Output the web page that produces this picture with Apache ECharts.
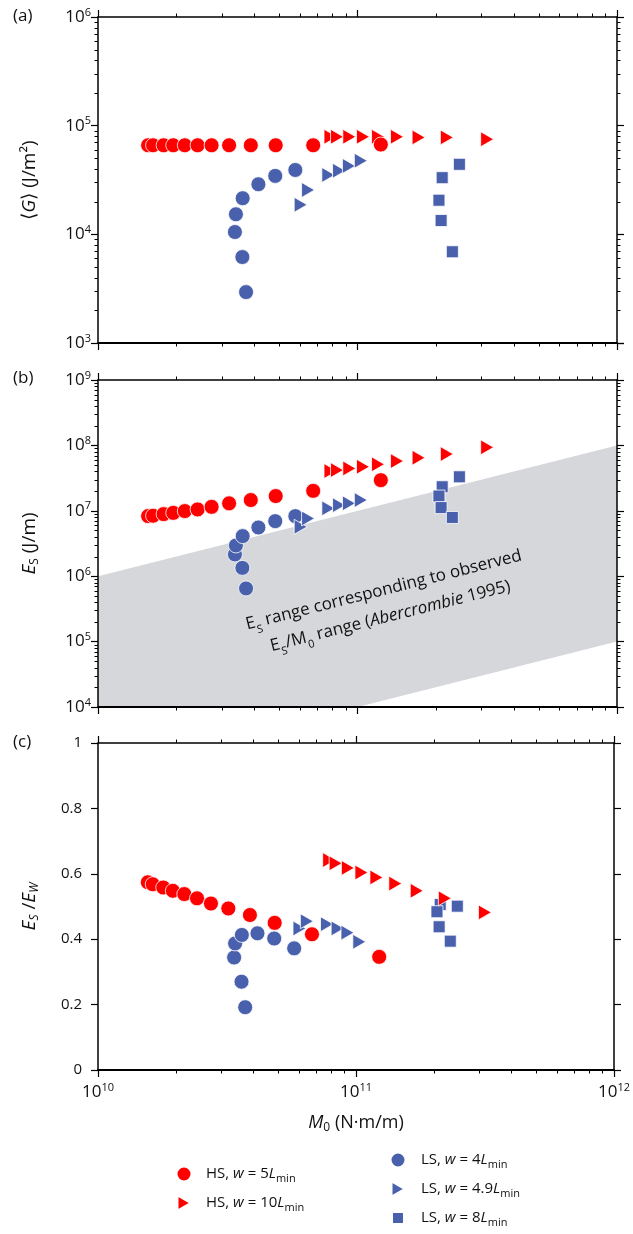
<!DOCTYPE html>
<html><head><meta charset="utf-8">
<script src="https://cdn.jsdelivr.net/npm/echarts@6/dist/echarts.min.js"></script>
<style>html,body{margin:0;padding:0;background:#fff}#c{width:633px;height:1234px}</style>
</head><body><div id="c"></div>
<script>
// ---------- data ----------
const xMin = 1e10, xMax = 1e12;
// HS, w = 5 Lmin (red circles)
const M_HS5  = [1.56e10, 1.63e10, 1.79e10, 1.95e10, 2.16e10, 2.42e10, 2.74e10, 3.20e10, 3.88e10, 4.84e10, 6.75e10, 1.23e11];
const G_HS5  = [6.6e4, 6.6e4, 6.6e4, 6.6e4, 6.6e4, 6.6e4, 6.6e4, 6.6e4, 6.6e4, 6.6e4, 6.6e4, 6.7e4];
const ES_HS5 = [8.3e6, 8.4e6, 8.9e6, 9.3e6, 9.9e6, 1.05e7, 1.15e7, 1.30e7, 1.46e7, 1.68e7, 2.02e7, 2.94e7];
const R_HS5  = [0.574, 0.568, 0.558, 0.548, 0.538, 0.525, 0.509, 0.494, 0.474, 0.450, 0.415, 0.346];
// HS, w = 10 Lmin (red triangles)
const M_HS10  = [7.87e10, 8.34e10, 9.30e10, 1.05e11, 1.20e11, 1.42e11, 1.72e11, 2.21e11, 3.16e11];
const G_HS10  = [7.9e4, 7.9e4, 7.9e4, 7.9e4, 7.9e4, 7.9e4, 7.8e4, 7.8e4, 7.5e4];
const ES_HS10 = [4.05e7, 4.19e7, 4.45e7, 4.71e7, 5.13e7, 5.75e7, 6.47e7, 7.37e7, 9.33e7];
const R_HS10  = [0.642, 0.632, 0.618, 0.604, 0.589, 0.570, 0.548, 0.525, 0.482];
// LS, w = 4 Lmin (blue circles)
const M_LS4  = [3.72e10, 3.60e10, 3.37e10, 3.40e10, 3.61e10, 4.15e10, 4.82e10, 5.76e10];
const G_LS4  = [2.94e3, 6.18e3, 1.05e4, 1.53e4, 2.15e4, 2.89e4, 3.45e4, 3.91e4];
const ES_LS4 = [6.5e5, 1.34e6, 2.15e6, 2.95e6, 4.1e6, 5.56e6, 6.95e6, 8.29e6];
const R_LS4  = [0.192, 0.270, 0.344, 0.387, 0.413, 0.418, 0.402, 0.372];
// LS, w = 4.9 Lmin (blue triangles)
const M_LS49  = [6.04e10, 6.45e10, 7.72e10, 8.49e10, 9.27e10, 1.03e11];
const G_LS49  = [1.87e4, 2.56e4, 3.52e4, 3.85e4, 4.26e4, 4.76e4];
const ES_LS49 = [5.69e6, 7.64e6, 1.09e7, 1.22e7, 1.30e7, 1.46e7];
const R_LS49  = [0.433, 0.455, 0.446, 0.433, 0.420, 0.392];
// LS, w = 8 Lmin (blue squares)
const M_LS8  = [2.47e11, 2.12e11, 2.06e11, 2.10e11, 2.32e11];
const G_LS8  = [4.41e4, 3.32e4, 2.06e4, 1.34e4, 6.91e3];
const ES_LS8 = [3.31e7, 2.33e7, 1.68e7, 1.12e7, 7.91e6];
const R_LS8  = [0.501, 0.506, 0.484, 0.438, 0.394];
// observed Es/M0 range (Abercrombie 1995)
const bandRatio = [1e-7, 1e-4];
const bandLabelAt = [1.30e11, 3.86e5];
// axis ranges / ticks
const yRangeA = [1e3, 1e6];
const yRangeB = [1e4, 1e9];
const yRangeC = [0, 1];
const xDecades = [1e10, 1e11];
const yDecadesA = [1e3, 1e4, 1e5];
const yDecadesB = [1e4, 1e5, 1e6, 1e7, 1e8];
const minorMult = [2, 3, 4, 5, 6, 7, 8, 9];
const seriesNames = ['HS5', 'HS10', 'LS4', 'LS49', 'LS8'];

// ---------- styles ----------
const FONT = 'Open Sans';
const RED = '#ff0000', BLUE = '#4961ad', TXT = '#111';
const TRI_RIGHT = 'path://M0,0L13,7.5L0,15Z';
const STY = {
  HS5:  {symbol: 'circle', symbolSize: 15, color: RED, icon: 'circle', iw: 15, ih: 15},
  HS10: {symbol: 'triangle', symbolSize: [15, 13], symbolRotate: -90, color: RED, icon: TRI_RIGHT, iw: 13, ih: 15},
  LS4:  {symbol: 'circle', symbolSize: 15, color: BLUE, icon: 'circle', iw: 15, ih: 15},
  LS49: {symbol: 'triangle', symbolSize: [15, 13], symbolRotate: -90, color: BLUE, icon: TRI_RIGHT, iw: 13, ih: 15},
  LS8:  {symbol: 'rect', symbolSize: 12, color: BLUE, icon: 'rect', iw: 12, ih: 12}
};
const LEGEND_TEXT = {
  HS5:  'HS, {i|w} = 5{i|L}{sub|min}',
  HS10: 'HS, {i|w} = 10{i|L}{sub|min}',
  LS4:  'LS, {i|w} = 4{i|L}{sub|min}',
  LS49: 'LS, {i|w} = 4.9{i|L}{sub|min}',
  LS8:  'LS, {i|w} = 8{i|L}{sub|min}'
};
// legend icon centre (x, y) and text start x
const legendPos = {HS5: [183, 1174, 205], HS10: [183, 1203, 205], LS4: [397, 1160, 420], LS49: [397, 1189, 420], LS8: [397, 1218, 420]};
const grids = [
  {left: 98, width: 519, top: 17, height: 326},
  {left: 98, width: 519, top: 380, height: 327},
  {left: 98, width: 519, top: 743, height: 327}
];

const expRich = {
  b: {fontSize: 17, fontFamily: FONT, color: TXT, lineHeight: 20},
  s: {fontSize: 11, fontFamily: FONT, color: TXT, lineHeight: 9, verticalAlign: 'top'}
};
const NF = 19;
const nameRich = {
  n: {fontSize: NF, fontFamily: FONT, color: TXT, lineHeight: 22},
  i: {fontSize: NF, fontFamily: FONT, color: TXT, fontStyle: 'italic', lineHeight: 22},
  sub: {fontSize: 12, fontFamily: FONT, color: TXT, lineHeight: 14, verticalAlign: 'bottom'},
  isub: {fontSize: 12, fontFamily: FONT, color: TXT, fontStyle: 'italic', lineHeight: 14, verticalAlign: 'bottom'}
};
function expFmt(v) { return '{b|10}{s|' + Math.round(Math.log10(v)) + '}'; }
const axLine = {show: true, onZero: false, lineStyle: {color: '#000', width: 1.5}};
const axTick = {show: true, length: 7, inside: false, lineStyle: {color: '#000', width: 1.2}};

const xAxes = [], yAxes = [];
grids.forEach((g, i) => {
  xAxes.push({
    gridIndex: i, type: 'log', position: 'bottom', min: xMin, max: xMax, logBase: 10, z: 3,
    axisLine: {show: true, onZero: false, lineStyle: {color: '#000', width: 2}}, axisTick: axTick, splitLine: {show: false},
    axisLabel: {show: i === 2, margin: 12, formatter: expFmt, rich: expRich, showMinLabel: true, showMaxLabel: true},
    name: i === 2 ? '{i|M}{sub|0}{n| (N·m/m)}' : '', nameLocation: 'middle', nameGap: 42,
    nameTextStyle: {fontSize: 18, fontFamily: FONT, color: TXT, rich: {
      n: {fontSize: 18, fontFamily: FONT, color: TXT, lineHeight: 22},
      i: {fontSize: 18, fontFamily: FONT, color: TXT, fontStyle: 'italic', lineHeight: 22},
      sub: {fontSize: 12, fontFamily: FONT, color: TXT, lineHeight: 14, verticalAlign: 'bottom'}
    }}
  });
  xAxes.push({
    gridIndex: i, type: 'log', position: 'top', min: xMin, max: xMax, logBase: 10, z: 3,
    axisLine: axLine, axisTick: axTick, splitLine: {show: false}, axisLabel: {show: false}
  });
});
const yNames = ['{n|⟨}{i|G}{n|⟩ (J/m²)}', '{i|E}{sub|S}{n| (J/m)}', '{i|E}{isub|S}{n| /}{i|E}{isub|W}'];
const yRanges = [yRangeA, yRangeB, yRangeC];
grids.forEach((g, i) => {
  const isLog = i < 2;
  const base = {
    gridIndex: i, type: isLog ? 'log' : 'value', min: yRanges[i][0], max: yRanges[i][1], z: 3,
    axisLine: axLine, axisTick: axTick, splitLine: {show: false}
  };
  if (!isLog) base.interval = 0.2;
  yAxes.push(Object.assign({}, base, {
    position: 'left',
    axisLabel: isLog ? {margin: 7, formatter: expFmt, rich: expRich, showMinLabel: true, showMaxLabel: true}
                     : {margin: 16, fontSize: 15, fontFamily: FONT, color: TXT, formatter: v => String(Math.round(v * 10) / 10), showMinLabel: true, showMaxLabel: true},
    name: yNames[i], nameLocation: 'middle', nameGap: 57,
    nameTextStyle: {fontSize: NF, fontFamily: FONT, color: TXT, rich: nameRich}
  }));
  yAxes.push(Object.assign({}, base, {position: 'right', axisLabel: {show: false}}));
});

// ---------- series ----------
const DATA = {
  HS5:  [M_HS5,  [G_HS5,  ES_HS5,  R_HS5]],
  HS10: [M_HS10, [G_HS10, ES_HS10, R_HS10]],
  LS4:  [M_LS4,  [G_LS4,  ES_LS4,  R_LS4]],
  LS49: [M_LS49, [G_LS49, ES_LS49, R_LS49]],
  LS8:  [M_LS8,  [G_LS8,  ES_LS8,  R_LS8]]
};
const drawOrder = ['LS4', 'LS49', 'LS8', 'HS10', 'HS5'];
const series = [];

// gray band: observed Es/M0 range in panel (b)
series.push({
  type: 'custom', xAxisIndex: 2, yAxisIndex: 2, z: 1, silent: true, clip: true,
  data: [[xMin, yRangeB[0]]],
  renderItem: function (params, api) {
    const rLo = bandRatio[0], rHi = bandRatio[1], yLo = yRangeB[0];
    const pts = [[xMin, xMin * rHi], [xMax, xMax * rHi], [xMax, xMax * rLo], [yLo / rLo, yLo], [xMin, yLo]]
      .map(p => api.coord(p));
    return {type: 'polygon', shape: {points: pts}, style: {fill: '#d5d7da', stroke: null}};
  }
});
// band annotation, rotated along the band edge
series.push({
  type: 'custom', xAxisIndex: 2, yAxisIndex: 2, z: 5, silent: true, clip: false,
  data: [bandLabelAt],
  renderItem: function (params, api) {
    const p = api.coord([api.value(0), api.value(1)]);
    const a = api.coord([xMin, xMin * bandRatio[1]]), b = api.coord([xMax, xMax * bandRatio[1]]);
    const rot = -Math.atan2(b[1] - a[1], b[0] - a[0]);
    const AF = 17;
    return {
      type: 'text', x: p[0], y: p[1], rotation: rot,
      style: {
        text: '{n|E}{sub|S}{n| range corresponding to observed}\n{n|E}{sub|S}{n|/M}{sub|0}{n| range (}{i|Abercrombie}{n| 1995)}',
        align: 'center', verticalAlign: 'middle', fill: TXT, fontSize: AF, fontFamily: FONT,
        rich: {
          n: {fontSize: AF, fontFamily: FONT, fill: TXT, lineHeight: 27},
          i: {fontSize: AF, fontFamily: FONT, fill: TXT, fontStyle: 'italic', lineHeight: 27},
          sub: {fontSize: 11, fontFamily: FONT, fill: TXT, lineHeight: 20, verticalAlign: 'bottom'}
        }
      }
    };
  }
});

for (let p = 0; p < 3; p++) {
  drawOrder.forEach(name => {
    const s = STY[name];
    const xs = DATA[name][0], ys = DATA[name][1][p];
    series.push({
      type: 'scatter', name: name, xAxisIndex: 2 * p, yAxisIndex: 2 * p, z: 2, silent: true,
      symbol: s.symbol, symbolSize: s.symbolSize, symbolRotate: s.symbolRotate || 0,
      itemStyle: {color: s.color, borderColor: '#fff', borderWidth: 0.8, opacity: 1},
      emphasis: {disabled: true},
      data: xs.map((x, k) => [x, ys[k]])
    });
  });
}

// minor ticks of the log axes (at 2..9 x 10^n)
function minorList(decs) { const a = []; decs.forEach(d => minorMult.forEach(m => a.push(d * m))); return a; }
const xMinor = minorList(xDecades);
const tickStyle = {stroke: '#000', lineWidth: 1};
for (let p = 0; p < 3; p++) {
  series.push({
    type: 'custom', xAxisIndex: 2 * p, yAxisIndex: 2 * p, z: 3, silent: true, clip: false,
    data: xMinor.map(v => [v, yRanges[p][0]]),
    renderItem: function (params, api) {
      const c = api.coord([api.value(0), api.value(1)]);
      const cs = params.coordSys;
      const x = Math.round(c[0]) + 0.5;
      return {type: 'group', children: [
        {type: 'line', shape: {x1: x, y1: cs.y, x2: x, y2: cs.y - 3.5}, style: tickStyle},
        {type: 'line', shape: {x1: x, y1: cs.y + cs.height, x2: x, y2: cs.y + cs.height + 3.5}, style: tickStyle}
      ]};
    }
  });
}
[[0, yDecadesA], [1, yDecadesB]].forEach(([p, decs]) => {
  series.push({
    type: 'custom', xAxisIndex: 2 * p, yAxisIndex: 2 * p, z: 3, silent: true, clip: false,
    data: minorList(decs).map(v => [xMin, v]),
    renderItem: function (params, api) {
      const c = api.coord([api.value(0), api.value(1)]);
      const cs = params.coordSys;
      const y = Math.round(c[1]) + 0.5;
      return {type: 'group', children: [
        {type: 'line', shape: {x1: cs.x, y1: y, x2: cs.x - 3.5, y2: y}, style: tickStyle},
        {type: 'line', shape: {x1: cs.x + cs.width, y1: y, x2: cs.x + cs.width + 3.5, y2: y}, style: tickStyle}
      ]};
    }
  });
});

// ---------- legends ----------
const legends = seriesNames.map(n => {
  const s = STY[n], pos = legendPos[n];
  const left = pos[0] - s.iw / 2;
  const gap = Math.max(1, pos[2] - (left + s.iw + 5));
  return {
    data: [{name: n, icon: s.icon}], left: left, top: pos[1] - 10, padding: 0,
    itemWidth: s.iw, itemHeight: s.ih, selectedMode: false, symbolRotate: 0,
    formatter: nm => '{g| }' + LEGEND_TEXT[nm],
    textStyle: {fontSize: 15, fontFamily: FONT, color: TXT, lineHeight: 20,
      rich: {
        g: {width: gap, fontSize: 15, lineHeight: 20},
        i: {fontSize: 15, fontFamily: FONT, color: TXT, fontStyle: 'italic', lineHeight: 20},
        sub: {fontSize: 11, fontFamily: FONT, color: TXT, lineHeight: 10, verticalAlign: 'bottom'}
      }}
  };
});

const chart = echarts.init(document.getElementById('c'), null, {renderer: 'canvas'});
chart.setOption({
  animation: false,
  backgroundColor: '#fff',
  grid: grids,
  xAxis: xAxes,
  yAxis: yAxes,
  legend: legends,
  series: series,
  graphic: [
    {type: 'text', x: 13, y: 16, style: {text: '(a)', fontSize: 17, fontFamily: FONT, fill: TXT, verticalAlign: 'middle'}},
    {type: 'text', x: 13, y: 378, style: {text: '(b)', fontSize: 17, fontFamily: FONT, fill: TXT, verticalAlign: 'middle'}},
    {type: 'text', x: 13, y: 742, style: {text: '(c)', fontSize: 17, fontFamily: FONT, fill: TXT, verticalAlign: 'middle'}}
  ]
});
</script></body></html>
